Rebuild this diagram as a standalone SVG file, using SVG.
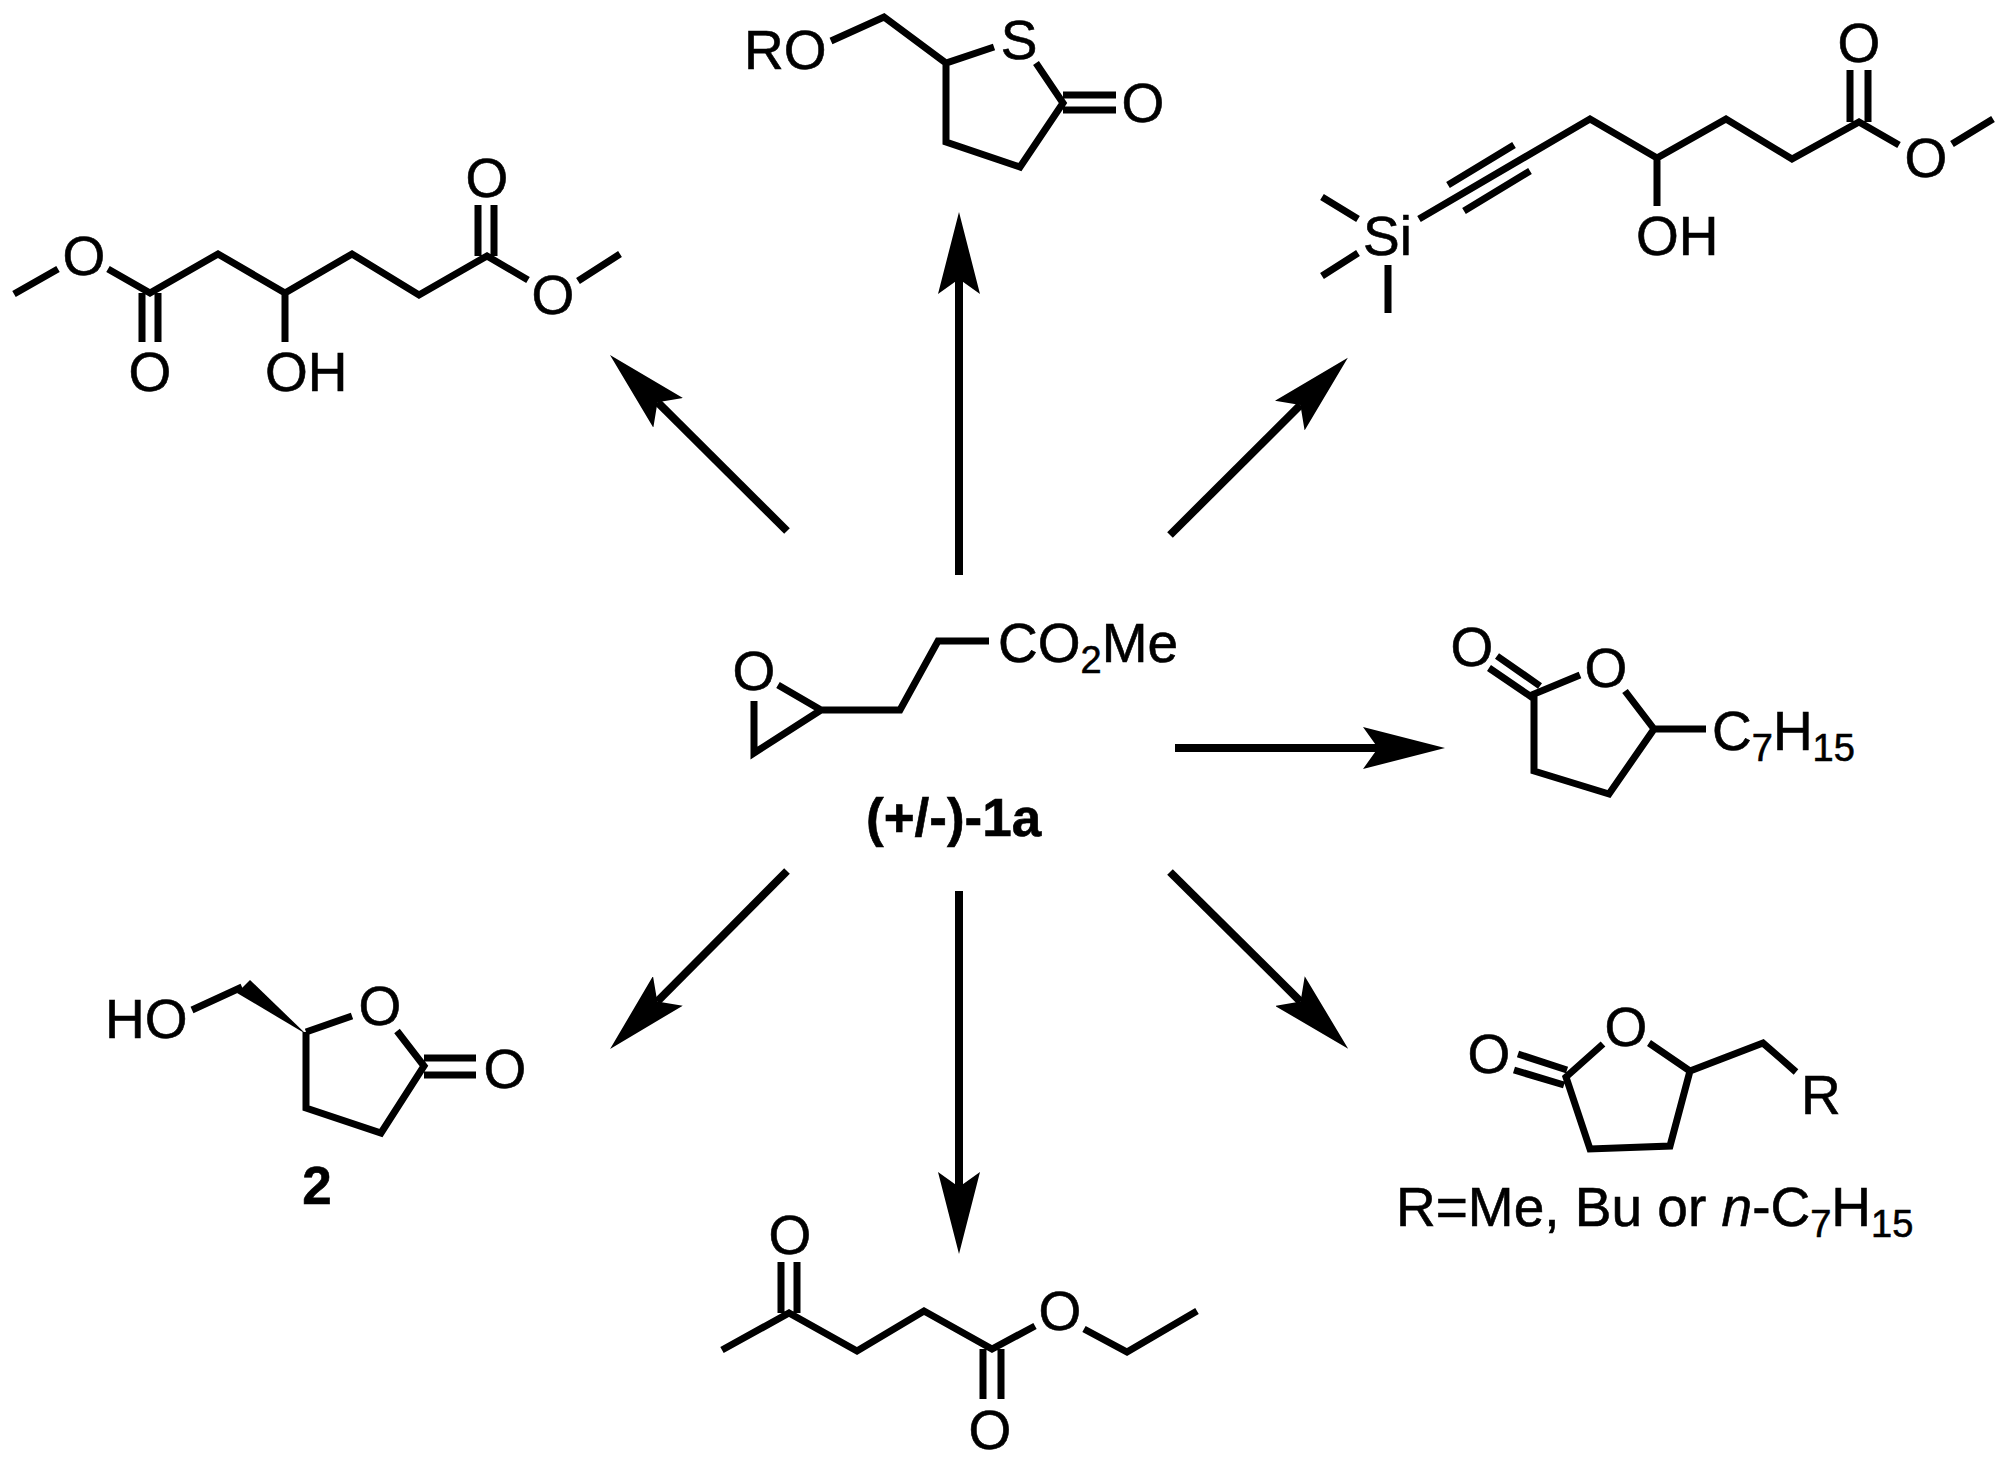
<svg xmlns="http://www.w3.org/2000/svg" width="2008" height="1461" viewBox="0 0 2008 1461">
<style>
.b{fill:none;stroke:#000;stroke-width:7;stroke-linejoin:miter;stroke-linecap:butt}
.a{fill:none;stroke:#000;stroke-width:8;marker-end:url(#head)}
text{font-family:"Liberation Sans",Arial,sans-serif;font-size:55px;fill:#000;stroke:#000;stroke-width:.6}
.m{text-anchor:middle}
.l{font-weight:700;font-size:53px}
.s{font-size:38px}
</style>
<defs>
<marker id="head" markerUnits="userSpaceOnUse" viewBox="-15 -21 82 42" refX="0" refY="0" markerWidth="82" markerHeight="42" orient="auto">
<path d="M-15,-21 L67,0 L-15,21 L0,0 Z" fill="#000"/>
</marker>
</defs>
<rect width="2008" height="1461" fill="#fff"/>
<g id="connectors">
<path class="a" d="M787,531 L657.5,402.2"/>
<path class="a" d="M959,575 L959,279"/>
<path class="a" d="M1170,535 L1300.4,405"/>
<path class="a" d="M1175,748 L1378,748"/>
<path class="a" d="M1170,872 L1300.6,1001.6"/>
<path class="a" d="M959,891 L959,1187"/>
<path class="a" d="M787,871 L657.3,1001.5"/>
</g>
<g id="diester">
<path class="b" d="M14,294 L58,269 M108,269 L150,293 L218,254 L285,293 L352,254 L419,295 L487,256 L528,280 M578,281 L620,254 M142,293 V342 M158,293 V342 M285,293 V342 M478,256 V205 M494,256 V205"/>
<text class="m" x="84" y="275">O</text>
<text class="m" x="150" y="391">O</text>
<text x="265" y="391">OH</text>
<text class="m" x="487" y="197">O</text>
<text class="m" x="553" y="314">O</text>
</g>
<g id="thiolactone">
<path class="b" d="M831,41 L884,17 L946,63 L994,47 M946,63 V142 L1020,167 L1063,103 L1036,63 M1063,95 H1116 M1063,110 H1116"/>
<text x="744" y="69">RO</text>
<text class="m" x="1019" y="59">S</text>
<text class="m" x="1143" y="122">O</text>
</g>
<g id="silyl-alkyne">
<path class="b" d="M1322,197 L1358,219 M1322,276 L1358,253 M1388,265 V313 M1419,219 L1590,119 L1657,158 L1726,119 L1792,159 L1859,122 L1899,145 M1448,185 L1514,145 M1464,211 L1530,171 M1657,158 V206 M1850,122 V70 M1868,122 V70 M1952,144 L1993,119"/>
<text x="1363" y="255">Si</text>
<text x="1636" y="255">OH</text>
<text class="m" x="1859" y="62">O</text>
<text class="m" x="1926" y="177">O</text>
</g>
<g id="substrate">
<path class="b" d="M989,641 L938,641 L900,710 L821,710 L778,685 M821,710 L754,753 V701"/>
<text class="m" x="754" y="690">O</text>
<text x="998" y="662">CO<tspan class="s" dy="11">2</tspan><tspan dy="-11">Me</tspan></text>
<text class="l" x="866" y="836">(+/-)-1a</text>
</g>
<g id="heptyl-lactone">
<path class="b" d="M1580,675 L1534,694 L1534,771 L1609,794 L1654,729 L1625,691 M1654,729 H1706 M1497,656 L1540,686 M1489,668 L1533,698"/>
<text class="m" x="1472" y="666">O</text>
<text class="m" x="1606" y="687">O</text>
<text x="1712" y="750">C<tspan class="s" dy="11">7</tspan><tspan dy="-11">H</tspan><tspan class="s" dy="11">15</tspan></text>
</g>
<g id="alkyl-lactone">
<path class="b" d="M1603,1044 L1566,1077 L1590,1149 L1670,1146 L1690,1071 L1649,1043 M1690,1071 L1763,1043 L1796,1072 M1518,1054 L1567,1070 M1514,1070 L1564,1085"/>
<text class="m" x="1489" y="1073">O</text>
<text class="m" x="1626" y="1046">O</text>
<text x="1801" y="1114">R</text>
<text x="1396" y="1226">R=Me, Bu or <tspan font-style="italic">n</tspan>-C<tspan class="s" dy="11">7</tspan><tspan dy="-11">H</tspan><tspan class="s" dy="11">15</tspan></text>
</g>
<g id="compound-2">
<path class="b" d="M192,1010 L242,987 M306,1032 L352,1016 M397,1031 L424,1066 L381,1133 L306,1108 L306,1032 M424,1058 H476 M424,1075 H476"/>
<path d="M306,1034 L237,993 L250,980 Z" fill="#000"/>
<text x="105" y="1038">HO</text>
<text class="m" x="380" y="1025">O</text>
<text class="m" x="505" y="1088">O</text>
<text class="l m" x="317" y="1204">2</text>
</g>
<g id="keto-ester">
<path class="b" d="M722,1350 L789,1313 L857,1351 L924,1311 L992,1349 L1035,1326 M1084,1329 L1127,1352 L1197,1311 M781,1313 V1262 M797,1313 V1262 M983,1349 V1399 M1001,1349 V1399"/>
<text class="m" x="790" y="1254">O</text>
<text class="m" x="990" y="1449">O</text>
<text class="m" x="1060" y="1330">O</text>
</g>
</svg>
